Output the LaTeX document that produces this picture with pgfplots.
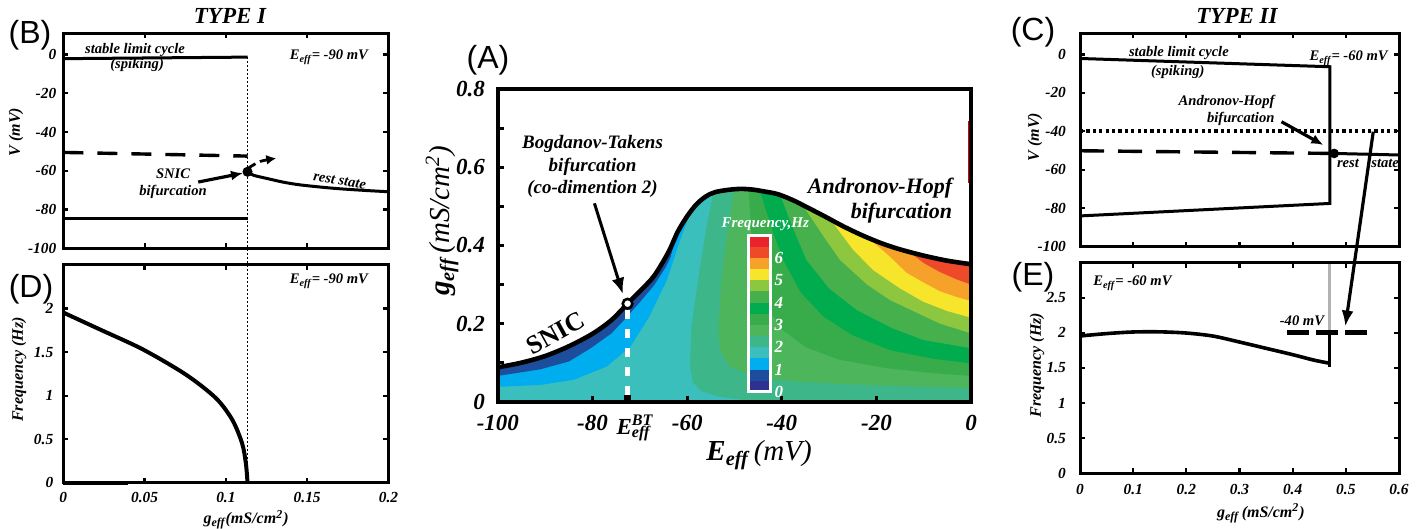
\documentclass[border=0pt]{standalone}
\usepackage{fontspec}
\setmainfont{Liberation Serif}
\newfontfamily\arialf{Liberation Sans}
\usepackage{pgfplots}
\pgfplotsset{compat=1.18}
\usetikzlibrary{arrows.meta}

\definecolor{c0}{HTML}{2E3192}
\definecolor{c1}{HTML}{1D4E9E}
\definecolor{c2}{HTML}{00AEEF}
\definecolor{c3}{HTML}{3BBFBD}
\definecolor{c4}{HTML}{3DB68A}
\definecolor{c5}{HTML}{4DB55B}
\definecolor{c6}{HTML}{38AB4A}
\definecolor{c7}{HTML}{00AC4E}
\definecolor{c8}{HTML}{46B04C}
\definecolor{c9}{HTML}{8DC63F}
\definecolor{c10}{HTML}{F6E52B}
\definecolor{c11}{HTML}{F6A12A}
\definecolor{c12}{HTML}{EE4A2A}
\definecolor{c13}{HTML}{E9222B}

\newcommand{\tl}{\fontsize{7.7}{8}\selectfont\bfseries\itshape}
\newcommand{\an}{\fontsize{7.3}{8.7}\selectfont\bfseries\itshape}
\newcommand{\lb}{\fontsize{8}{9}\selectfont\bfseries\itshape}
\newcommand{\Eeff}{E\textsubscript{eff}}
\newcommand{\geff}{\textbf{\textit{g}\textsubscript{eff}}}

\pgfplotsset{pan/.style={scale only axis, anchor=south west, axis on top,
  axis line style={line width=1.5pt}, tick align=inside, major tick length=2.5pt,
  tick style={line width=1.1pt, black}, tick label style={font=\tl}, label style={font=\lb}}}

\begin{document}
\begin{tikzpicture}
% ---------------- (B) ----------------
\begin{axis}[pan, at={(31.65pt,140.35pt)}, width=162.6pt, height=107.5pt,
  xmin=0, xmax=0.2, ymin=-100, ymax=11,
  xtick={0,0.05,0.1,0.15,0.2}, xticklabels={},
  ytick={-100,-80,-60,-40,-20,0}, yticklabels={-100,-80,-60,-40,-20,0},
  ylabel={V (mV)}, ylabel style={at={(axis description cs:-0.145,0.54)}, anchor=center}]
\addplot[black, line width=1.5pt] coordinates {(0,-2.1) (0.1133,-1.3)};
\addplot[black, line width=1.5pt] coordinates {(0,-84.4) (0.1133,-84.4)};
\addplot[black, line width=1.7pt, dash pattern=on 10pt off 7pt] coordinates {(0,-50.5) (0.1133,-52.4)};
\addplot[black, line width=1.4pt, dash pattern=on 4pt off 2.5pt, smooth, -{Latex[length=5pt,width=5pt]}] coordinates {(0.1140,-58.5) (0.121,-55.2) (0.131,-53.5)};
\addplot[black, line width=1.5pt, smooth] coordinates {(0.1133,-60.5) (0.117,-62.3) (0.125,-63.9) (0.135,-65.8) (0.146,-67.3) (0.166,-69) (0.185,-70.1) (0.2,-70.8)};
\addplot[only marks, mark=*, mark size=2.3pt, black] coordinates {(0.1133,-60.5)};
\addplot[black, line width=1.6pt, -{Latex[length=6pt,width=5pt]}] coordinates {(0.083,-65.8) (0.1105,-61.2)};
\node[font=\an] at (axis cs:0.0441,2.2) {stable limit cycle};
\node[font=\an] at (axis cs:0.0454,-5.5) {(spiking)};
\node[font=\an, anchor=east] at (axis cs:0.1917,-1.4) {\Eeff= -90 mV};
\node[font=\an, align=center] at (axis cs:0.0675,-66.6) {SNIC\\bifurcation};
\node[font=\an, rotate=-9] at (axis cs:0.170,-65.3) {rest state};
\end{axis}

% ---------------- (D) ----------------
\begin{axis}[pan, at={(31.65pt,23.15pt)}, width=162.6pt, height=108.85pt, clip=false,
  xmin=0, xmax=0.2, ymin=0, ymax=2.5,
  xtick={0,0.05,0.1,0.15,0.2}, xticklabels={0,0.05,0.1,0.15,0.2},
  ytick={0,0.5,1,1.5,2}, yticklabels={0,0.5,1,1.5,2},
  yticklabel style={xshift=-1.5pt}, xticklabel style={yshift=-1pt},
  ylabel={Frequency (Hz)}, ylabel style={at={(axis description cs:-0.136,0.52)}, anchor=center},
  xlabel={\geff\textit{(mS/cm\textsuperscript{2})}}, xlabel style={at={(axis description cs:0.562,-0.171)}, anchor=center}]
\addplot[black, line width=0.9pt, dash pattern=on 1pt off 1pt] coordinates {(0.1133,0) (0.1133,4.913)};
\addplot[black, line width=2pt, smooth] coordinates {(0,1.954) (0.0225,1.76) (0.049,1.53) (0.0755,1.24) (0.0939,0.97) (0.104,0.72) (0.110,0.45) (0.1123,0.22) (0.1133,0)};
\addplot[black, line width=2pt] coordinates {(0,0) (0.04,0)};
\node[font=\an, anchor=east] at (axis cs:0.1917,2.315) {\Eeff= -90 mV};
\end{axis}

% ---------------- (A) ----------------
\begin{axis}[scale only axis, anchor=south west, at={(248.95pt,63.65pt)}, width=236.6pt, height=156.2pt,
  xmin=-100, xmax=0, ymin=0, ymax=0.8, axis on top,
  axis line style={line width=2pt}, tick pos=left, tick align=inside,
  major tick length=3pt, minor tick length=3pt, tick style={line width=1.5pt, black},
  xtick={-100,-80,-60,-40,-20,0}, xticklabels={-100,-80,-60,-40,-20,0},
  ytick={0,0.2,0.4,0.6,0.8}, yticklabels={0,0.2,0.4,0.6,0.8}, minor ytick={0.1,0.3,0.5,0.7},
  extra x ticks={-72.6}, extra x tick labels={{E\rlap{\textsuperscript{BT}}\textsubscript{eff}}},
  extra x tick style={tick style={line width=3.5pt}, major tick length=3.5pt, xticklabel style={xshift=3pt}},
  tick label style={font=\fontsize{11.5}{12}\selectfont\bfseries\itshape},
  yticklabel style={xshift=-3pt}, xticklabel style={yshift=-3pt},
  xlabel={\textbf{\textit{E}\textsubscript{eff}}\,\textit{(mV)}},
  xlabel style={font=\fontsize{14.5}{15}\selectfont\mdseries\itshape, at={(axis description cs:0.552,-0.171)}, anchor=center},
  ylabel={\textbf{\textit{g}\textsubscript{eff}}\,\textit{(mS/cm\textsuperscript{2})}},
  ylabel style={font=\fontsize{14.5}{15}\selectfont\mdseries\itshape, at={(axis description cs:-0.118,0.58)}, anchor=center}]
% base level 1.5-2
\addplot[fill=c3, draw=none] coordinates {(-100,0) (0,0) (0,0.8) (-100,0.8)} --cycle;
% 1-1.5
\addplot[fill=c2, draw=none] coordinates {(-100,0.038) (-91,0.043) (-84,0.056) (-77,0.09) (-72,0.141) (-68,0.218) (-64.3,0.311) (-61.5,0.413) (-59.8,0.47) (-59.8,0.8) (-100,0.8)} --cycle;
% 0.5-1
\addplot[fill=c1, draw=none] coordinates {(-100,0.066) (-91,0.083) (-85,0.103) (-80.5,0.136) (-76,0.175) (-73.5,0.207) (-70,0.255) (-67,0.298) (-64.5,0.345) (-63.5,0.37) (-62.8,0.405) (-62.8,0.8) (-100,0.8)} --cycle;
% 2-2.5
\addplot[fill=c4, draw=none] coordinates {(-54.5,0.8) (-54.5,0.534) (-55.9,0.448) (-57.6,0.32) (-59.1,0.192) (-59.4,0.09) (-58.8,0.05) (-57,0.027) (-53,0.012) (-45,0) (0,0) (0,0.8)} --cycle;
% 2.5-3
\addplot[fill=c5, draw=none] coordinates {(-50,0.8) (-50,0.543) (-51.3,0.448) (-52.7,0.32) (-53.4,0.192) (-53.1,0.132) (-51,0.09) (-46,0.065) (-38,0.052) (-25,0.044) (-10,0.038) (0,0.035) (0,0.8)} --cycle;
% 3-3.5
\addplot[fill=c6, draw=none] coordinates {(-47,0.8) (-47,0.544) (-46.5,0.44) (-45.5,0.33) (-43.5,0.25) (-40,0.185) (-35,0.14) (-28,0.108) (-18,0.086) (-8,0.073) (0,0.066) (0,0.8)} --cycle;
% 3.5-4
\addplot[fill=c7, draw=none] coordinates {(-44.6,0.8) (-44.6,0.539) (-42,0.44) (-39.7,0.363) (-36,0.28) (-31.2,0.218) (-25,0.17) (-17.1,0.132) (-8,0.11) (0,0.098) (0,0.8)} --cycle;
% 4-4.5
\addplot[fill=c8, draw=none] coordinates {(-40.4,0.8) (-40.4,0.531) (-37.5,0.44) (-34.8,0.363) (-30,0.29) (-24.2,0.235) (-17,0.19) (-10.1,0.158) (0,0.137) (0,0.8)} --cycle;
% 4.5-5
\addplot[fill=c9, draw=none] coordinates {(-35.5,0.8) (-35.5,0.502) (-31,0.42) (-27.7,0.363) (-22,0.3) (-17.1,0.26) (-11,0.225) (-6.6,0.2) (0,0.175) (0,0.8)} --cycle;
% 5-5.5
\addplot[fill=c10, draw=none] coordinates {(-29.5,0.8) (-29.5,0.463) (-25,0.39) (-20.7,0.337) (-15,0.29) (-10.1,0.256) (-5,0.232) (0,0.215) (0,0.8)} --cycle;
% 5.5-6
\addplot[fill=c11, draw=none] coordinates {(-21.5,0.8) (-21.5,0.418) (-17,0.37) (-13.6,0.33) (-10,0.305) (-6.6,0.283) (-3,0.268) (0,0.258) (0,0.8)} --cycle;
% 6-6.5
\addplot[fill=c12, draw=none] coordinates {(-13,0.8) (-13,0.383) (-10,0.355) (-6.6,0.332) (-3,0.313) (0,0.300) (0,0.8)} --cycle;
% white above the bifurcation curve
\addplot[fill=white, draw=none] coordinates {(-100,0.088) (-95,0.100) (-90,0.117) (-85,0.142) (-80,0.174) (-76,0.209) (-72.6,0.251) (-70,0.283) (-67,0.322) (-64,0.382) (-62,0.435) (-60,0.475) (-58,0.506) (-56,0.526) (-54,0.537) (-51,0.543) (-48.5,0.545) (-46,0.543) (-44,0.539) (-41,0.532) (-38,0.518) (-35,0.500) (-31,0.475) (-27,0.449) (-23,0.426) (-19,0.406) (-15,0.390) (-10,0.374) (-5,0.361) (0,0.352) (0,0.82) (-100,0.82)} --cycle;
% bifurcation curve
\addplot[black, line width=2.3pt, smooth] coordinates {(-100,0.088) (-95,0.100) (-90,0.117) (-85,0.142) (-80,0.174) (-76,0.209) (-72.6,0.251) (-70,0.283) (-67,0.322) (-64,0.382) (-62,0.435) (-60,0.475) (-58,0.506) (-56,0.526) (-54,0.537) (-51,0.543) (-48.5,0.545) (-46,0.543) (-44,0.539) (-41,0.532) (-38,0.518) (-35,0.500) (-31,0.475) (-27,0.449) (-23,0.426) (-19,0.406) (-15,0.390) (-10,0.374) (-5,0.361) (0,0.352)};
\addplot[red!85!black, line width=0.7pt] coordinates {(-99.6,0.056) (-99.6,0.086)};
\addplot[red!85!black, line width=0.7pt] coordinates {(-0.5,0.56) (-0.5,0.72)};
\addplot[white, line width=2.2pt, dash pattern=on 4.5pt off 5pt] coordinates {(-72.6,0.235) (-72.6,0)};
\addplot[black, line width=1.5pt, -{Latex[length=8pt,width=6.5pt]}] coordinates {(-79.6,0.508) (-73.6,0.276)};
\addplot[only marks, mark=*, mark size=2.4pt, mark options={fill=white, draw=black, line width=1.3pt}] coordinates {(-72.6,0.251)};
\node[font=\fontsize{9.5}{11.3}\selectfont\bfseries\itshape, align=center] at (axis cs:-80,0.602) {Bogdanov-Takens\\bifurcation\\(co-dimention 2)};
\node[font=\fontsize{11}{12.5}\selectfont\bfseries\itshape, align=right, anchor=east] at (axis cs:-2.5,0.515) {Andronov-Hopf\\bifurcation};
\node[font=\fontsize{13}{13}\selectfont\bfseries, rotate=29] at (axis cs:-87.8,0.175) {SNIC};
\end{axis}

% ---------------- colour bar ----------------
\begin{axis}[scale only axis, anchor=south west, at={(374pt,68.5pt)}, width=11.25pt, height=78.25pt,
  xmin=0, xmax=1, ymin=0, ymax=7, axis on top,
  axis line style={white, line width=1.5pt}, xtick=\empty,
  ytick={0,1,2,3,4,5,6}, yticklabels={0,1,2,3,4,5,6}, yticklabel pos=right, major tick length=0pt,
  yticklabel style={font=\fontsize{8.5}{9}\selectfont\bfseries\itshape, text=white, xshift=-1.5pt},
  title={Frequency,Hz}, title style={font=\fontsize{7.5}{8}\selectfont\bfseries\itshape, text=white, at={(0.5,1)}, anchor=south, yshift=-7pt, xshift=3pt}]
\addplot[fill=c0, draw=none] coordinates {(0,0) (1,0) (1,0.5) (0,0.5)} --cycle;
\addplot[fill=c1, draw=none] coordinates {(0,0.5) (1,0.5) (1,1) (0,1)} --cycle;
\addplot[fill=c2, draw=none] coordinates {(0,1) (1,1) (1,1.5) (0,1.5)} --cycle;
\addplot[fill=c3, draw=none] coordinates {(0,1.5) (1,1.5) (1,2) (0,2)} --cycle;
\addplot[fill=c4, draw=none] coordinates {(0,2) (1,2) (1,2.5) (0,2.5)} --cycle;
\addplot[fill=c5, draw=none] coordinates {(0,2.5) (1,2.5) (1,3) (0,3)} --cycle;
\addplot[fill=c6, draw=none] coordinates {(0,3) (1,3) (1,3.5) (0,3.5)} --cycle;
\addplot[fill=c7, draw=none] coordinates {(0,3.5) (1,3.5) (1,4) (0,4)} --cycle;
\addplot[fill=c8, draw=none] coordinates {(0,4) (1,4) (1,4.5) (0,4.5)} --cycle;
\addplot[fill=c9, draw=none] coordinates {(0,4.5) (1,4.5) (1,5) (0,5)} --cycle;
\addplot[fill=c10, draw=none] coordinates {(0,5) (1,5) (1,5.5) (0,5.5)} --cycle;
\addplot[fill=c11, draw=none] coordinates {(0,5.5) (1,5.5) (1,6) (0,6)} --cycle;
\addplot[fill=c12, draw=none] coordinates {(0,6) (1,6) (1,6.5) (0,6.5)} --cycle;
\addplot[fill=c13, draw=none] coordinates {(0,6.5) (1,6.5) (1,7) (0,7)} --cycle;
\end{axis}

% ---------------- (C) ----------------
\begin{axis}[pan, at={(540pt,141.15pt)}, width=159.5pt, height=106.7pt,
  xmin=0, xmax=0.6, ymin=-100, ymax=11,
  xtick={0,0.1,0.2,0.3,0.4,0.5,0.6}, xticklabels={},
  ytick={-100,-80,-60,-40,-20,0}, yticklabels={-100,-80,-60,-40,-20,0},
  yticklabel style={xshift=-3.5pt},
  ylabel={V (mV)}, ylabel style={at={(axis description cs:-0.141,0.514)}, anchor=center}]
\addplot[black, line width=1.5pt] coordinates {(0,-2.1) (0.47,-6.4) (0.47,-77.5) (0,-84)};
\addplot[black, line width=2pt, dash pattern=on 1.6pt off 1.6pt] coordinates {(0,-40) (0.6,-40)};
\addplot[black, line width=1.7pt, dash pattern=on 12pt off 7pt] coordinates {(0,-50.1) (0.478,-51.5)};
\addplot[black, line width=1.5pt] coordinates {(0.478,-51.5) (0.6,-52.3)};
\addplot[only marks, mark=*, mark size=2.2pt, black] coordinates {(0.478,-51.5)};
\addplot[black, line width=1.6pt, -{Latex[length=6pt,width=5pt]}] coordinates {(0.379,-35) (0.4577,-47.1)};
\node[font=\an] at (axis cs:0.186,0.5) {stable limit cycle};
\node[font=\an] at (axis cs:0.184,-9) {(spiking)};
\node[font=\an, anchor=east] at (axis cs:0.592,-1.9) {\Eeff = -60 mV};
\node[font=\an, align=right, anchor=east] at (axis cs:0.379,-29) {Andronov-Hopf\\bifurcation};
\node[font=\an] at (axis cs:0.504,-56.5) {rest};
\node[font=\an] at (axis cs:0.574,-56.5) {state};
\end{axis}

% ---------------- (E) ----------------
\begin{axis}[pan, at={(540pt,27.85pt)}, width=159.5pt, height=105.3pt, clip=false,
  xmin=0, xmax=0.6, ymin=0, ymax=3,
  xtick={0,0.1,0.2,0.3,0.4,0.5,0.6}, xticklabels={0,0.1,0.2,0.3,0.4,0.5,0.6},
  ytick={0,0.5,1,1.5,2,2.5}, yticklabels={0,0.5,1,1.5,2,2.5},
  yticklabel style={xshift=-3.5pt}, xticklabel style={yshift=-2pt},
  ylabel={Frequency (Hz)}, ylabel style={at={(axis description cs:-0.135,0.514)}, anchor=center},
  xlabel={\geff\,\textit{(mS/cm\textsuperscript{2})}}, xlabel style={at={(axis description cs:0.567,-0.189)}, anchor=center}]
\addplot[black, line width=1.8pt, smooth] coordinates {(0,1.956) (0.05,1.99) (0.1,2.013) (0.15,2.015) (0.2,1.998) (0.25,1.955) (0.3,1.87) (0.35,1.78) (0.4,1.69) (0.44,1.612) (0.47,1.567)};
\addplot[black, line width=1.5pt] coordinates {(0.47,1.52) (0.47,2.03)};
\addplot[black!30, line width=1.5pt] coordinates {(0.47,2.03) (0.47,3)};
\addplot[black, line width=2.5pt, dash pattern=on 11pt off 3.5pt] coordinates {(0.389,2.0) (0.539,2.0)};
\addplot[black, line width=1.6pt, -{Latex[length=8pt,width=6pt]}] coordinates {(0.5516,4.866) (0.499,2.09)};
\node[font=\an] at (axis cs:0.4175,2.17) {-40 mV};
\node[font=\an, anchor=west] at (axis cs:0.012,2.71) {\Eeff = -60 mV};
\end{axis}

% ---------------- panel letters and titles ----------------
\node[font=\arialf\fontsize{16}{16}\selectfont] at (15pt,247pt) {(B)};
\node[font=\arialf\fontsize{16}{16}\selectfont] at (15.5pt,120pt) {(D)};
\node[font=\arialf\fontsize{16}{16}\selectfont] at (244pt,234.5pt) {(A)};
\node[font=\arialf\fontsize{16}{16}\selectfont] at (516.5pt,248.5pt) {(C)};
\node[font=\arialf\fontsize{16}{16}\selectfont] at (516.5pt,126pt) {(E)};
\node[font=\fontsize{11.5}{12}\selectfont\bfseries\itshape] at (115pt,256.5pt) {TYPE I};
\node[font=\fontsize{11.5}{12}\selectfont\bfseries\itshape] at (618.5pt,256.5pt) {TYPE II};

\pgfresetboundingbox
\path (0,0) rectangle (712pt,264.5pt);
\end{tikzpicture}
\end{document}
